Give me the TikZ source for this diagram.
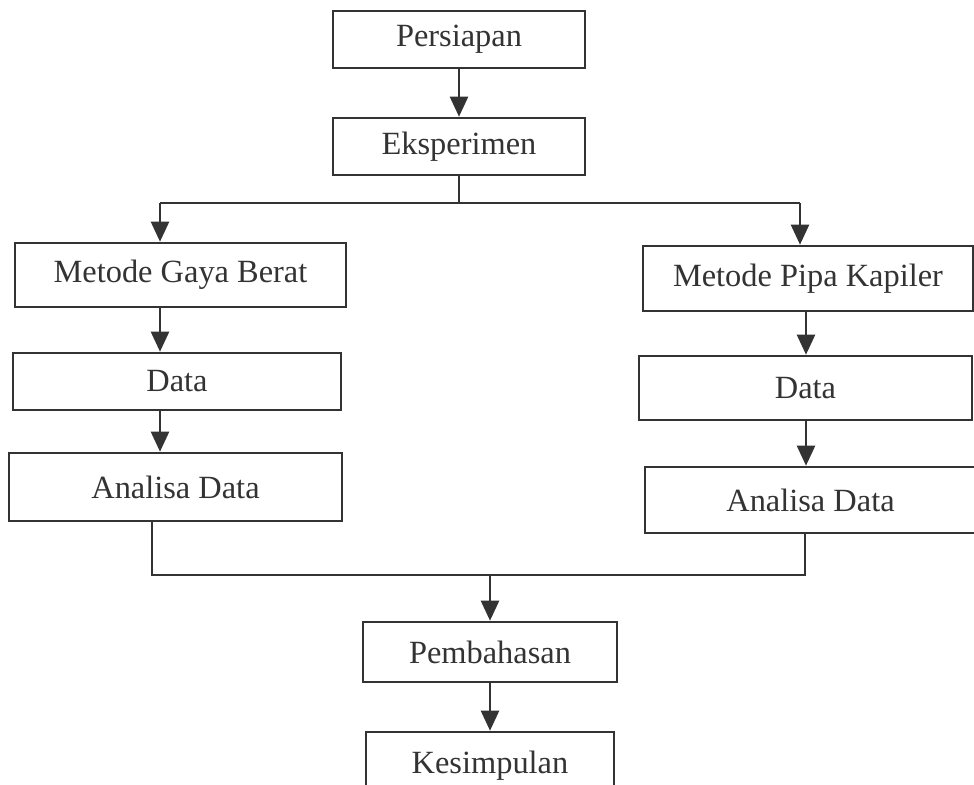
\documentclass[tikz,border=0pt]{standalone}
\usepackage{fontspec}
\setmainfont{Liberation Serif}
\usetikzlibrary{arrows.meta}
\begin{document}
\begin{tikzpicture}[x=0.5pt, y=-0.5pt]
    \tikzstyle{kotak}=[draw=black!80, line width=1.3pt, inner sep=0pt, text=black!80, font=\fontsize{16.2}{19}\selectfont]
    \tikzstyle{panah}=[draw=black!80, line width=1.2pt, -{Triangle[length=10pt, width=9pt]}]
    \tikzstyle{garis}=[draw=black!80, line width=1.2pt]
    \useasboundingbox (0,0) rectangle (974,785);
    \clip (0,0) rectangle (974,785);
    \fill[white] (0,0) rectangle (974,785);
    \node[kotak, minimum width=126pt, minimum height=28.5pt] (persiapan) at (459,39.5) {Persiapan};
    \node[kotak, minimum width=126pt, minimum height=28.5pt] (eksperimen) at (459,146.5) {Eksperimen};
    \node[kotak, minimum width=165.5pt, minimum height=32pt] (gaya) at (180.5,275) {Metode Gaya Berat};
    \node[kotak, minimum width=164pt, minimum height=28.5pt] (dataL) at (177,381.5) {Data};
    \node[kotak, minimum width=166.5pt, minimum height=34pt] (analisaL) at (175.5,487) {Analisa Data};
    \node[kotak, minimum width=165pt, minimum height=32.5pt] (kapiler) at (808,278.5) {Metode Pipa Kapiler};
    \node[kotak, minimum width=166.5pt, minimum height=32pt] (dataR) at (805.5,388) {Data};
    \node[kotak, minimum width=165.5pt, minimum height=33pt] (analisaR) at (810.5,500) {Analisa Data};
    \node[kotak, minimum width=127pt, minimum height=30pt] (pembahasan) at (490,652) {Pembahasan};
    \node[kotak, minimum width=124pt, minimum height=34pt] (kesimpulan) at (490,766) {Kesimpulan};
    % titik bantu cabang
    \coordinate (cabang) at (459,203);
    \coordinate (kiri) at (160,203);
    \coordinate (kanan) at (800,203);
    \coordinate (kananB) at (806,0);
    \coordinate (gabung) at (490,575);
    \coordinate (gabungL) at (152,575);
    \coordinate (gabungR) at (805,575);
    \draw[panah] (persiapan) -- (eksperimen);
    \draw[garis] (eksperimen.south) -- (cabang);
    \draw[garis] (kiri) -- (kanan);
    \draw[panah] (kiri) -- (gaya.north -| kiri);
    \draw[panah] (kanan) -- (kapiler.north -| kanan);
    \draw[panah] (gaya.south -| kiri) -- (dataL.north -| kiri);
    \draw[panah] (dataL.south -| kiri) -- (analisaL.north -| kiri);
    \draw[panah] (kapiler.south -| kananB) -- (dataR.north -| kananB);
    \draw[panah] (dataR.south -| kananB) -- (analisaR.north -| kananB);
    \draw[garis] (analisaL.south -| gabungL) -- (gabungL) -- (gabungR) -- (analisaR.south -| gabungR);
    \draw[panah] (gabung) -- (pembahasan);
    \draw[panah] (pembahasan) -- (kesimpulan);
  \end{tikzpicture}
\end{document}
